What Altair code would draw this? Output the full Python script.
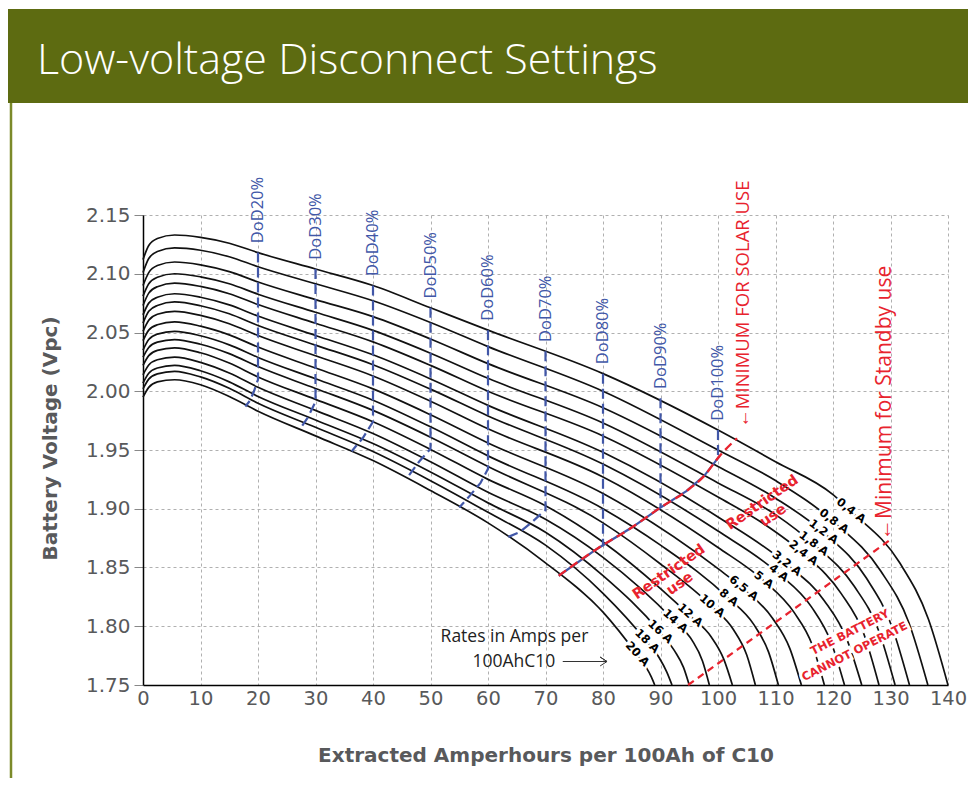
import altair as alt
import pandas as pd

# ---------------- data ----------------
rate_labels = ["0,4 A", "0,8 A", "1,2 A", "1,8 A", "2,4 A", "3,2 A", "4 A", "5 A",
               "6,5 A", "8 A", "10 A", "12 A", "14 A", "16 A", "18 A", "20 A"]

# shared x positions at the start of every curve
head_x = [0, 1, 2.5, 5.5, 10, 15, 20, 30, 40, 50, 60]
head_v = [
    [2.112, 2.124, 2.130, 2.133, 2.131, 2.126, 2.118, 2.104, 2.090, 2.071, 2.052],
    [2.101, 2.113, 2.119, 2.122, 2.120, 2.1145, 2.106, 2.0915, 2.077, 2.0585, 2.038],
    [2.090, 2.101, 2.107, 2.110, 2.1076, 2.1018, 2.093, 2.078, 2.0635, 2.0445, 2.0235],
    [2.081, 2.0915, 2.097, 2.100, 2.0974, 2.0915, 2.0826, 2.0672, 2.0518, 2.0324, 2.011],
    [2.073, 2.0835, 2.089, 2.092, 2.0892, 2.083, 2.0738, 2.0579, 2.042, 2.022, 2.000],
    [2.065, 2.075, 2.080, 2.083, 2.080, 2.0735, 2.064, 2.0475, 2.031, 2.0105, 1.988],
    [2.058, 2.068, 2.073, 2.076, 2.0728, 2.0659, 2.056, 2.0393, 2.0226, 2.0018, 1.979],
    [2.051, 2.0604, 2.0655, 2.068, 2.0646, 2.0575, 2.0474, 2.0302, 2.013, 1.9915, 1.968],
    [2.043, 2.052, 2.0566, 2.059, 2.0554, 2.048, 2.0376, 2.0198, 2.002, 1.980, 1.956],
    [2.035, 2.044, 2.0486, 2.051, 2.0472, 2.0395, 2.0288, 2.0106, 1.9924, 1.9697, 1.945],
    [2.029, 2.0373, 2.0418, 2.044, 2.040, 2.032, 2.021, 2.0024, 1.9837, 1.9609, 1.936],
    [2.022, 2.0303, 2.0348, 2.037, 2.0328, 2.024, 2.0122, 1.9931, 1.974, 1.9505, 1.925],
    [2.014, 2.0223, 2.0268, 2.029, 2.0246, 2.0155, 2.0034, 1.9837, 1.964, 1.940, 1.914],
    [2.007, 2.0153, 2.0198, 2.022, 2.0174, 2.008, 1.9956, 1.9756, 1.9555, 1.9313, 1.905],
    [2.002, 2.0103, 2.0148, 2.017, 2.0122, 2.0025, 1.9898, 1.9693, 1.9487, 1.9239, 1.897],
    [1.995, 2.0033, 2.008, 2.0098, 2.0055, 1.9955, 1.983, 1.962, 1.941, 1.9155, 1.888],
]
# remaining points of every curve (after x = 60), down to the 1.75 V axis
tail_x = [
    [80, 100, 110, 120, 123.1, 131.6, 136.6, 140],
    [80, 100, 110, 120.1, 128.3, 133.2, 136.5],
    [80, 100, 110, 118.3, 125.8, 130.3, 133.3],
    [80, 100, 110, 116.6, 123.7, 128.0, 130.8],
    [80, 100, 108, 114.8, 121.4, 125.4, 128.0],
    [80, 100, 111.9, 118.45, 122.4, 125.0],
    [80, 100, 110.5, 116.25, 119.7, 122.0],
    [80, 100, 107.9, 113.2, 116.4, 118.5],
    [80, 100, 104.4, 109.45, 112.5, 114.5],
    [80, 90, 101.8, 106.15, 108.8, 110.5],
    [80, 90, 98.9, 102.7, 105.0, 106.5],
    [70, 80, 90, 95.1, 98.8, 101.0, 102.5],
    [70, 80, 92.5, 95.5, 97.3, 98.5],
    [70, 80, 89.9, 92.45, 94.0, 95.0],
    [70, 80, 87.6, 89.8, 91.1, 92.0],
    [70, 80, 85.9, 87.45, 88.4, 89.0],
]
tail_v = [
    [2.015, 1.967, 1.940, 1.912, 1.898, 1.854, 1.806, 1.75],
    [2.000, 1.950, 1.924, 1.889, 1.847, 1.803, 1.75],
    [1.986, 1.936, 1.909, 1.880, 1.841, 1.799, 1.75],
    [1.973, 1.922, 1.895, 1.870, 1.834, 1.7956, 1.75],
    [1.962, 1.910, 1.887, 1.862, 1.828, 1.793, 1.75],
    [1.948, 1.893, 1.853, 1.822, 1.789, 1.75],
    [1.938, 1.881, 1.845, 1.8165, 1.786, 1.75],
    [1.927, 1.867, 1.839, 1.812, 1.784, 1.75],
    [1.913, 1.849, 1.832, 1.807, 1.781, 1.75],
    [1.900, 1.869, 1.824, 1.802, 1.778, 1.75],
    [1.888, 1.853, 1.817, 1.797, 1.7755, 1.75],
    [1.9026, 1.8717, 1.832, 1.809, 1.791, 1.772, 1.75],
    [1.891, 1.8586, 1.804, 1.788, 1.7705, 1.75],
    [1.880, 1.843, 1.795, 1.779, 1.765, 1.75],
    [1.869, 1.828, 1.787, 1.773, 1.761, 1.75],
    [1.854, 1.812, 1.776, 1.7655, 1.757, 1.75],
]

label_x = [123.1, 120.1, 118.3, 116.6, 114.8, 111.9, 110.5, 107.9, 104.4, 101.8, 98.9, 95.1, 92.5, 89.9, 87.6, 85.9]
label_v = [1.898, 1.889, 1.880, 1.870, 1.862, 1.853, 1.845, 1.839, 1.832, 1.824, 1.817, 1.809, 1.804, 1.795, 1.787, 1.776]
label_angle = [38, 37, 37, 37, 38, 38, 38, 38, 39, 40, 40, 42, 42, 43, 45, 48]

dod_names = ["DoD20%", "DoD30%", "DoD40%", "DoD50%", "DoD60%", "DoD70%", "DoD80%", "DoD90%", "DoD100%"]
dod_x = [[20, 20, 19.3, 18.6, 17.8], [30, 30, 28.7, 27.3], [40, 40, 38.2, 36.3], [50, 50, 48, 45.9],
         [60, 60, 58.7, 57, 55], [70, 70, 67.5, 65.5, 63.5], [80, 80], [90, 90], [100, 100]]
dod_v = [[2.118, 2.010, 2.000, 1.992, 1.987], [2.104, 1.991, 1.978, 1.968], [2.090, 1.974, 1.960, 1.949],
         [2.071, 1.951, 1.940, 1.926], [2.052, 1.934, 1.922, 1.912, 1.901], [2.034, 1.899, 1.888, 1.880, 1.876],
         [2.015, 1.868], [1.994, 1.901], [1.967, 1.944]]

solar_x = [72.3, 79, 85, 90, 94.5, 97.6, 100.3, 103.3]
solar_v = [1.843, 1.866, 1.884, 1.901, 1.915, 1.928, 1.945, 1.960]
standby_x = [94.8, 129.8]
standby_v = [1.75, 1.873]

arrow_x = [73.0, 80.7, 79.5, 80.7, 79.5]
arrow_v = [1.770, 1.770, 1.7738, 1.770, 1.7662]

x_ticks = list(range(0, 141, 10))
y_ticks = [1.75, 1.80, 1.85, 1.90, 1.95, 2.00, 2.05, 2.10, 2.15]

# ---------------- tables ----------------
curve_rows = []
for r, hv, tx, tv in zip(rate_labels, head_v, tail_x, tail_v):
    xs = head_x + tx
    vs = hv + tv
    for k, (x, v) in enumerate(zip(xs, vs)):
        curve_rows.append({"rate": r, "x": x, "v": v, "k": k})
curves_df = pd.DataFrame(curve_rows)

labels_df = pd.DataFrame({"label": rate_labels, "x": label_x, "v": label_v, "angle": label_angle})

dod_rows = []
for n, xs, vs in zip(dod_names, dod_x, dod_v):
    for k, (x, v) in enumerate(zip(xs, vs)):
        dod_rows.append({"dod": n, "x": x, "v": v, "k": k})
dod_df = pd.DataFrame(dod_rows)
dod_lab_df = pd.DataFrame({"label": dod_names, "x": [xs[0] for xs in dod_x],
                           "v": [vs[0] + 0.008 for vs in dod_v]})

solar_df = pd.DataFrame({"x": solar_x, "v": solar_v, "k": list(range(len(solar_x)))})
solar_blue_df = solar_df[solar_df["x"] <= 100.3]
standby_df = pd.DataFrame({"x": standby_x, "v": standby_v, "k": [0, 1]})
arrow_df = pd.DataFrame({"x": arrow_x, "v": arrow_v, "k": list(range(len(arrow_x)))})

# ---------------- encodings ----------------
GREY = "#58595b"
BLUE = "#4157a8"
RED = "#e8232e"

xscale = alt.Scale(domain=[0, 140], nice=False, zero=False)
yscale = alt.Scale(domain=[1.75, 2.15], nice=False, zero=False)
xaxis = alt.Axis(values=x_ticks, format="d", title="Extracted Amperhours per 100Ah of C10",
                 titleFont="DejaVu Sans", titleFontSize=20, titleFontWeight="bold", titleColor=GREY,
                 titlePadding=38, labelFont="DejaVu Sans", labelFontSize=19.5, labelColor=GREY,
                 tickSize=0, labelPadding=4, domainColor="black", domainWidth=1.5,
                 grid=True, gridColor="#b0b0b0", gridDash=[3, 3], gridWidth=1, labelFlush=False)
yaxis = alt.Axis(values=y_ticks, format=".2f", title="Battery Voltage (Vpc)",
                 titleFont="DejaVu Sans", titleFontSize=20, titleFontWeight="bold", titleColor=GREY,
                 titleAngle=270, titleX=-93, titleY=223, titleAlign="center", titleBaseline="middle",
                 labelFont="DejaVu Sans", labelFontSize=20, labelColor=GREY,
                 tickSize=9, tickColor="#888888", labelPadding=4, domainColor="black", domainWidth=1.5,
                 grid=True, gridColor="#b0b0b0", gridDash=[3, 3], gridWidth=1, labelFlush=False)


def X():
    return alt.X("x:Q", scale=xscale, axis=xaxis)


def Y():
    return alt.Y("v:Q", scale=yscale, axis=yaxis)


one = pd.DataFrame({"a": [0]})

header = alt.Chart(one).mark_rect(color="#5d6b11").encode(
    x=alt.value(-135), x2=alt.value(826), y=alt.value(-206), y2=alt.value(-112))
left_line = alt.Chart(one).mark_rule(color="#7b8a2a", strokeWidth=2.5).encode(
    x=alt.value(-132), y=alt.value(-112), y2=alt.value(563))
title = alt.Chart(one).mark_text(text="Low-voltage Disconnect Settings", color="white", font="Open Sans",
                                 fontWeight=300, fontSize=43, align="left", baseline="alphabetic").encode(
    x=alt.value(-106), y=alt.value(-141))

curves = alt.Chart(curves_df).mark_line(color="#111111", strokeWidth=1.7, interpolate="monotone").encode(
    x=X(), y=Y(), detail="rate:N", order="k:Q")

label_halo = alt.Chart(labels_df).mark_text(font="DejaVu Sans", fontWeight="bold", fontSize=11.5,
                                            color="white", stroke="white", strokeWidth=5,
                                            align="center", baseline="middle").encode(
    x=X(), y=Y(), text="label:N", angle=alt.Angle("angle:Q", scale=None))
label_text = alt.Chart(labels_df).mark_text(font="DejaVu Sans", fontWeight="bold", fontSize=11.5,
                                            color="black", align="center", baseline="middle").encode(
    x=X(), y=Y(), text="label:N", angle=alt.Angle("angle:Q", scale=None))

dod_lines = alt.Chart(dod_df).mark_line(color=BLUE, strokeWidth=2.2, strokeDash=[10, 5]).encode(
    x=X(), y=Y(), detail="dod:N", order="k:Q")
dod_labels = alt.Chart(dod_lab_df).mark_text(font="Open Sans", fontSize=16.5, color=BLUE, angle=270,
                                             align="left", baseline="middle").encode(
    x=X(), y=Y(), text="label:N")

solar_blue = alt.Chart(solar_blue_df).mark_line(color=BLUE, strokeWidth=2.2).encode(
    x=X(), y=Y(), order="k:Q")
solar = alt.Chart(solar_df).mark_line(color=RED, strokeWidth=2.3, strokeDash=[9, 5],
                                      interpolate="monotone").encode(x=X(), y=Y(), order="k:Q")
standby = alt.Chart(standby_df).mark_line(color=RED, strokeWidth=2.2, strokeDash=[7, 5]).encode(
    x=X(), y=Y(), order="k:Q")

ann_df = pd.DataFrame({
    "t": ["\u2190MINIMUM FOR SOLAR USE", "\u2190Minimum for Standby use"],
    "x": [104.3, 129.0], "v": [1.969, 1.8734], "size": [18.5, 21]})
red_vert = alt.Chart(ann_df).mark_text(font="Open Sans", color=RED, angle=270, align="left",
                                       baseline="middle").encode(
    x=X(), y=Y(), text="t:N", size=alt.Size("size:Q", scale=None, legend=None))

restr_df = pd.DataFrame({"t": ["Restricted", "use", "Restricted", "use"],
                         "x": [91.5, 93.4, 107.7, 109.6], "v": [1.846, 1.836, 1.905, 1.894]})
restricted = alt.Chart(restr_df).mark_text(font="DejaVu Sans", fontWeight="bold", fontSize=14.5, color=RED,
                                           angle=325, align="center", baseline="middle").encode(
    x=X(), y=Y(), text="t:N")

batt_df = pd.DataFrame({"t": ["THE BATTERY", "CANNOT OPERATE"], "x": [123.0, 123.8], "v": [1.7943, 1.778]})
batt_halo = alt.Chart(batt_df).mark_text(font="DejaVu Sans", fontWeight="bold", fontSize=11.5, color="white",
                                         stroke="white", strokeWidth=6, angle=333, align="center",
                                         baseline="middle").encode(x=X(), y=Y(), text="t:N")
batt = alt.Chart(batt_df).mark_text(font="DejaVu Sans", fontWeight="bold", fontSize=11.5, color=RED,
                                    angle=333, align="center", baseline="middle").encode(
    x=X(), y=Y(), text="t:N")

rates_df = pd.DataFrame({"t": ["Rates in Amps per", "100AhC10"], "x": [64.6, 64.5], "v": [1.791, 1.770]})
rates_txt = alt.Chart(rates_df).mark_text(font="Open Sans", fontSize=17.5, color="#222222",
                                          align="center", baseline="middle").encode(
    x=X(), y=Y(), text="t:N")
arrow = alt.Chart(arrow_df).mark_line(color="#333333", strokeWidth=1).encode(x=X(), y=Y(), order="k:Q")

chart = alt.layer(
    header, left_line, title,
    curves, label_halo, label_text, batt_halo,
    dod_lines, solar_blue, solar, standby,
    dod_labels, red_vert, restricted, batt, rates_txt, arrow,
).properties(
    width=805, height=470,
    padding={"left": 135, "top": 207, "right": 20, "bottom": 93},
    autosize=alt.AutoSizeParams(type="none"),
    background="white",
).configure_view(strokeWidth=0)

chart.save("out.html", embed_options={"renderer": "svg", "actions": False})
